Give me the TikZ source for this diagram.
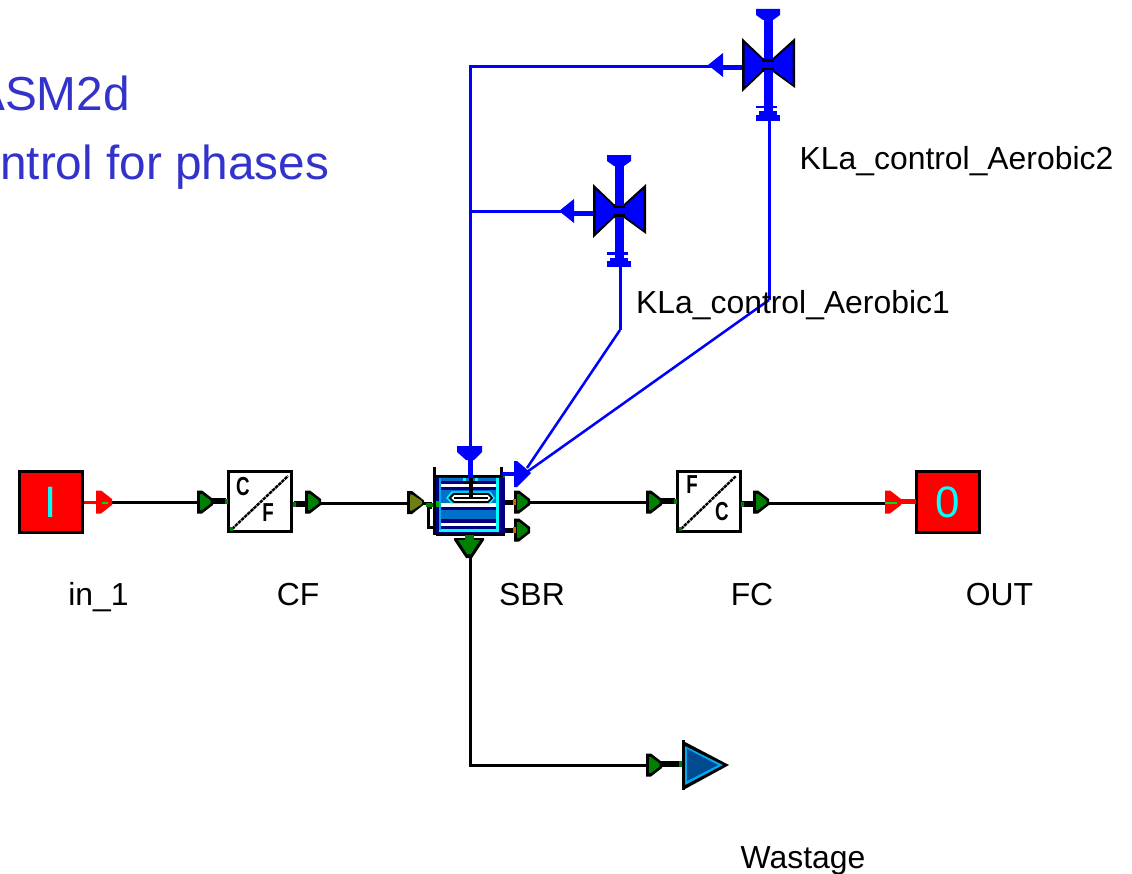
\documentclass[tikz,border=0pt]{standalone}
\usepackage{fontspec}
\setmainfont{Liberation Sans}
\definecolor{portgreen}{HTML}{008000}
\definecolor{portolive}{HTML}{6E7F10}
\definecolor{pblue}{HTML}{0000FF}
\definecolor{titleblue}{HTML}{3333CC}
\definecolor{navy}{HTML}{000080}
\definecolor{mblue}{HTML}{0070C8}
\definecolor{lblue}{HTML}{00A8F0}
\definecolor{cyanl}{HTML}{00FFFF}
\definecolor{wblue}{HTML}{004A90}
\tikzset{
 px/.style={x=0.75pt,y=-0.75pt},
 wire/.style={draw=black,line width=2.25pt},
 thickstub/.style={draw=black,line width=3.9pt},
 bluewire/.style={draw=pblue,line width=2.25pt},
 bluefine/.style={draw=pblue,line width=1.9pt},
 label/.style={font=\fontsize{23.9}{26}\selectfont,inner sep=0pt,anchor=base},
 title/.style={font=\fontsize{35.8}{40}\selectfont,text=titleblue,inner sep=0pt,anchor=base west},
 ioblock/.style={draw=black,fill=red,line width=2.25pt,minimum width=47.25pt,minimum height=45.75pt,inner sep=0pt,text=cyanl,font=\fontsize{33}{33}\selectfont},
 convblock/.style={draw=black,fill=white,line width=2.25pt,minimum width=47.25pt,minimum height=45pt,inner sep=0pt},
 convletter/.style={inner sep=0pt,font=\fontsize{19.5}{20}\selectfont\bfseries,xscale=.72},
}
% right-pointing port: #1=x of back bar, #2=y, #3=body colour, #4=bar colour
\newcommand{\portright}[4]{%
 \begin{scope}[shift={(#1,#2)}]
  \fill[#4] (0,-11.5)--(5,-11.5)--(16,-3)--(16,3)--(5,11.5)--(0,11.5)--cycle;
  \fill[#3] (3,-8)--(5,-8)--(13.5,-1.5)--(13.5,1.5)--(5,8)--(3,8)--cycle;
 \end{scope}}
% valve: origin is the crossing of its axes
\newcommand{\valve}[2]{%
 \begin{scope}[shift={(#1,#2)}]
  \fill[pblue] (-60,0) -- (-45,-12) -- (-45,12) -- cycle;
  \fill[pblue] (-48,0) rectangle (-25,5);
  \fill[black] (-26,-27) -- (-5,-7) -- (5,-7) -- (27,-27) -- (27,23) -- (5,7) -- (-5,7) -- (-26,27) -- cycle;
  \fill[pblue] (-23.5,-21.5) -- (-5,-4.5) -- (5,-4.5) -- (24.5,-21.5) -- (24.5,19) -- (5,4.5) -- (-5,4.5) -- (-23.5,21.5) -- cycle;
  \fill[pblue] (-4.5,-45) rectangle (4.5,47);
  \fill[pblue] (-12,-56)--(12,-56)--(12,-50)--(5,-45)--(-5,-45)--(-12,-50)--cycle;
  \fill[pblue] (-12,41) rectangle (9,43.5);
  \fill[pblue] (-9,46.5) rectangle (9,50);
  \fill[pblue] (-12,50) rectangle (12,56);
  \fill[black] (-6,-5.5) rectangle (6,-3);
  \fill[black] (-6,3) rectangle (6,5.5);
 \end{scope}}
\begin{document}
\begin{tikzpicture}[px]
\useasboundingbox (0,0) rectangle (1132,874);
\clip (0,0) rectangle (1132,874);

% titles
\node[title] (t1) at (-27,110) {ASM2d};
\node[title] (t2) at (0,179) {ntrol for phases};

% blocks
\node[ioblock] (in) at (51,502) {I};
\node[convblock] (cf) at (260,501.5) {};
\node[convblock] (fc) at (708.5,501.5) {};
\node[ioblock] (out) at (948,502) {0};

% port coordinates
\coordinate (inp) at (107,502.5);
\coordinate (cfin) at (200,502.5);
\coordinate (cfout) at (318,503.5);
\coordinate (sbrin) at (412,503.5);
\coordinate (sbrout) at (525,502.5);
\coordinate (fcin) at (650,502.5);
\coordinate (fcout) at (766,503);
\coordinate (outin) at (888,503);
\coordinate (sbrbot) at (470,556);
\coordinate (wcorner) at (470,765);
\coordinate (wp) at (650,765);
\coordinate (vt) at (470,450);
\coordinate (vtop) at (470,67);
\coordinate (vmid) at (470,211);
\coordinate (v2l) at (712,67);
\coordinate (v1l) at (563,211);
\coordinate (v1b) at (620,262);
\coordinate (v1k) at (620,330);
\coordinate (v2b) at (769,116);
\coordinate (v2k) at (769,300);
\coordinate (ctlA) at (527,468);
\coordinate (ctlB) at (527,472);

% connectors
\draw[wire] (inp) -- (cfin);
\draw[wire] (cfout) -- (sbrin);
\draw[wire] (sbrout) -- (fcin);
\draw[wire] (fcout) -- (outin);
\draw[wire] (sbrbot) -- (wcorner) -- (wp);
\draw[bluewire] (vt) -- (vtop) -- (v2l);
\draw[bluewire] (vmid) -- (v1l);
\draw[bluewire] (v1b) -- (v1k);
\draw[bluefine] (v1k) -- (ctlA);
\draw[bluewire] (v2b) -- (v2k);
\draw[bluefine] (v2k) -- (ctlB);

% stubs at blocks
\draw[line width=2.25pt,red] (84,502.5) -- (98,502.5);
\draw[line width=4pt,red] (898,501.5) -- (916,501.5);
\draw[thickstub] (208,501) -- (226,501);
\draw[thickstub] (294,504) -- (308,504);
\draw[thickstub] (656,501) -- (675,501);
\draw[thickstub] (742,504) -- (756,504);
\fill[portgreen] (225,499) rectangle (228,504);
\fill[portgreen] (293,502) rectangle (296,507);
\fill[portgreen] (674,499) rectangle (677,504);
\fill[portgreen] (741,502) rectangle (744,507);

% ports
\portright{96}{502}{red}{red}
\fill[green!90!black] (102,501.5) rectangle (108,503.5);
\portright{197}{502}{portgreen}{black}
\portright{305}{502}{portgreen}{black}
\portright{646}{502}{portgreen}{black}
\portright{753}{502}{portgreen}{black}
\portright{885}{502}{red}{red}
\fill[green!90!black] (885,501.5) rectangle (897,503.5);

% converter contents
\draw[black,line width=1.8pt,dash pattern=on 2.6pt off .6pt] (232,529) -- (288,476);
\draw[black,line width=1.8pt,dash pattern=on 2.6pt off .6pt] (681,529) -- (736,476);
\fill[portgreen] (230,527) rectangle (233,531);
\fill[portgreen] (679,527) rectangle (682,531);
\node[convletter] (cfc) at (243,487) {C};
\node[convletter] (cff) at (268,513) {F};
\node[convletter] (fcf) at (692,485) {F};
\node[convletter] (fcc) at (722,512) {C};

% valves
\valve{768}{65}
\valve{619}{211}

% SBR
\draw[wire] (sbrin) -- (432,503.5);
\draw[line width=2.25pt,black] (432,507) -- (428,507) -- (428,527) -- (436,527);
\fill[black] (433,467) rectangle (436,535);
\fill[black] (500,467) rectangle (503,475);
\fill[black] (436,475) rectangle (505,477.5);
\fill[navy] (436,477) rectangle (505,535);
\fill[black] (436,532.5) rectangle (505,535.5);
\fill[mblue] (439,477.5) rectangle (498,481);
\fill[white] (439,484) rectangle (498,487);
\fill[mblue] (439,490) rectangle (498,503);
\fill[white] (439,503) rectangle (498,507);
\fill[mblue] (439,510) rectangle (498,519);
\fill[white] (439,523) rectangle (498,526);
\fill[cyanl] (439,529) rectangle (499,531.5);
\fill[cyanl] (496,478) rectangle (499,531);
\fill[lblue] (439,478) rectangle (441,530);
\fill[cyanl] (463,477.5) rectangle (466,481);
\fill[cyanl] (475,477.5) rectangle (478,481);
\draw[cyanl,line width=1pt] (452,492) -- (490,492) -- (494,498) -- (490,503) -- (452,503) -- (447,498) -- cycle;
\filldraw[draw=black,fill=white,line width=1.2pt] (454,494) -- (488,494) -- (492,498) -- (488,502) -- (454,502) -- (450,498) -- cycle;
\fill[black] (469,477) rectangle (473,497);
\fill[black] (464,481) rectangle (477,484);
\fill[black] (454,497) rectangle (488,499);
\fill[black] (505,500) rectangle (514,504.5);
\fill[black] (505,528) rectangle (514,532.5);
\fill[portgreen] (503,474) rectangle (505,478);

% SBR ports
\begin{scope}[shift={(407,502.5)}]
 \fill[black] (0,-11.5)--(5,-11.5)--(17,-2)--(17,2)--(5,11.5)--(0,11.5)--cycle;
 \fill[portolive] (3,-8)--(5,-8)--(15,-1.5)--(15,1.5)--(5,8)--(3,8)--cycle;
\end{scope}
\fill[portgreen] (426,503) rectangle (433,507);
\fill[green!70!black] (436,501) rectangle (439,507);
\portright{514}{502}{portgreen}{black}
\portright{514}{530}{portgreen}{black}
\fill[orange!80!black] (513,499) rectangle (516,505);
\fill[orange!80!black] (513,527) rectangle (516,533);
\begin{scope}[shift={(469,537)}]
 \fill[black] (-15,1)--(15,1)--(15,3)--(3,21)--(-3,21)--(-15,3)--cycle;
 \fill[portgreen] (-11,3)--(11,3)--(2,17)--(-2,17)--cycle;
\end{scope}
\fill[portgreen] (465,535) rectangle (474,540);

% control arrows at SBR
\fill[pblue] (457,446) -- (482,446) -- (482,452) -- (474,460) -- (466,460) -- (457,452) -- cycle;
\fill[pblue] (468,450) rectangle (472.5,478);
\fill[pblue] (502,471.5) rectangle (516,476);
\fill[pblue] (514,461) -- (517,461) -- (531,473) -- (517,487) -- (514,487) -- cycle;

% wastage
\draw[thickstub] (658,764) -- (680,764);
\portright{646}{765}{portgreen}{black}
\fill[portgreen] (679,761) rectangle (683,767);
\fill[black] (682,740) rectangle (685,790);
\fill[black] (685,742) -- (729,765) -- (685,789) -- cycle;
\fill[lblue] (685,746) -- (723,765) -- (685,785) -- cycle;
\fill[wblue] (687,749) -- (718,765) -- (687,781) -- cycle;

% labels
\node[label] (lin) at (98.5,605) {in\_1};
\node[label] (lcf) at (298,605) {CF};
\node[label] (lsbr) at (532,605) {SBR};
\node[label] (lfc) at (752,605) {FC};
\node[label] (lout) at (999.5,605) {OUT};
\node[label] (lw) at (803,868) {Wastage};
\node[label] (la1) at (793,313) {KLa\_control\_Aerobic1};
\node[label] (la2) at (956.5,169) {KLa\_control\_Aerobic2};
\end{tikzpicture}
\end{document}
